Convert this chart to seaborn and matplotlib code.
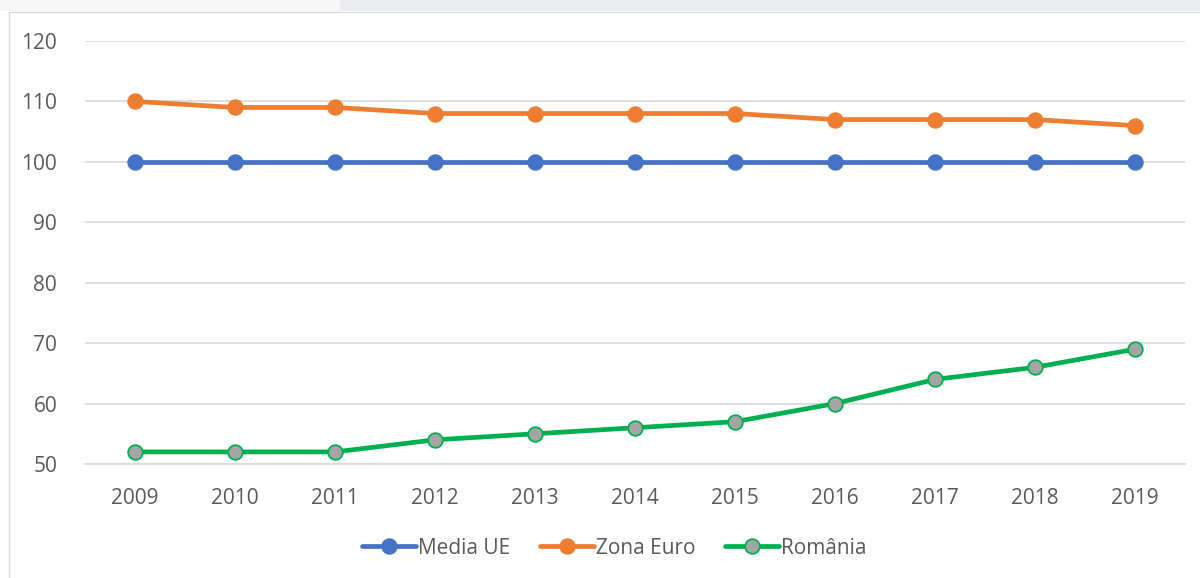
import matplotlib
matplotlib.use("Agg")
import matplotlib.pyplot as plt
import seaborn as sns
import pandas as pd
from matplotlib.patches import Rectangle
from matplotlib.lines import Line2D

years = ["2009", "2010", "2011", "2012", "2013", "2014", "2015", "2016", "2017", "2018", "2019"]
media_ue = [100, 100, 100, 100, 100, 100, 100, 100, 100, 100, 100]
zona_euro = [110, 109, 109, 108, 108, 108, 108, 107, 107, 107, 106]
romania = [52, 52, 52, 54, 55, 56, 57, 60, 64, 66, 69]
series_names = ["Media UE", "Zona Euro", "România"]

sns.set_theme(style="white")
plt.rcParams['font.family'] = ['Open Sans', 'DejaVu Sans']

fig = plt.figure(figsize=(12, 5.78), dpi=100)
# light frame like the screenshot
fig.patches.append(Rectangle((0, 1 - 11/578), 1, 11/578, transform=fig.transFigure,
                             facecolor="#ECEDF0", edgecolor="none", zorder=0))
fig.patches.append(Rectangle((0, 1 - 11/578), 340/1200, 11/578, transform=fig.transFigure,
                             facecolor="#F7F7F8", edgecolor="none", zorder=0))
fig.lines.append(Line2D([9/1200, 1], [1 - 11.5/578, 1 - 11.5/578], transform=fig.transFigure,
                        color="#D9D9D9", lw=1))
fig.lines.append(Line2D([9/1200, 9/1200], [0, 1 - 11.5/578], transform=fig.transFigure,
                        color="#D9D9D9", lw=1))

ax = fig.add_axes([85/1200, 1 - 464/578, 1100/1200, 423/578])

df = pd.DataFrame({"year": years * 3,
                   "value": media_ue + zona_euro + romania,
                   "series": [series_names[0]] * 11 + [series_names[1]] * 11 + [series_names[2]] * 11})

styles = {
    "Media UE": dict(color="#4472C4", mfc="#4472C4", mec="#4472C4"),
    "Zona Euro": dict(color="#ED7D31", mfc="#ED7D31", mec="#ED7D31"),
    "România": dict(color="#00B050", mfc="#A5A5A5", mec="#00B050"),
}
for name in series_names:
    st = styles[name]
    sub = df[df["series"] == name]
    sns.lineplot(data=sub, x="year", y="value", ax=ax, color=st["color"], lw=3.4,
                 marker="o", markersize=10.5, markerfacecolor=st["mfc"],
                 markeredgecolor=st["mec"], markeredgewidth=1.3, label=name,
                 sort=False, legend=False, zorder=3)

ax.set_xlim(-0.5, 10.5)
ax.set_ylim(50, 120)
ax.set_yticks(range(50, 121, 10))
ax.yaxis.grid(True, color="#D9D9D9", lw=1.2)
ax.xaxis.grid(False)
for s in ["top", "right", "left"]:
    ax.spines[s].set_visible(False)
ax.spines["bottom"].set_color("#D9D9D9")
ax.spines["bottom"].set_linewidth(1.2)
ax.tick_params(axis="both", length=0, labelsize=15, labelcolor="#595959")
ax.tick_params(axis="x", pad=17)
ax.tick_params(axis="y", pad=20)
ax.set_xlabel("")
ax.set_ylabel("")

handles = [Line2D([], [], color=styles[n]["color"], lw=3.4, marker="o", markersize=10.5,
                  markerfacecolor=styles[n]["mfc"], markeredgecolor=styles[n]["mec"],
                  markeredgewidth=1.3) for n in series_names]
fig.legend(handles, series_names, loc="center", bbox_to_anchor=(0.512, 1 - 548/578),
           ncol=3, frameon=False, fontsize=15, labelcolor="#595959",
           handlelength=2.6, handletextpad=0.1, columnspacing=1.4)

fig.savefig("out.png", dpi=100, facecolor="white")
